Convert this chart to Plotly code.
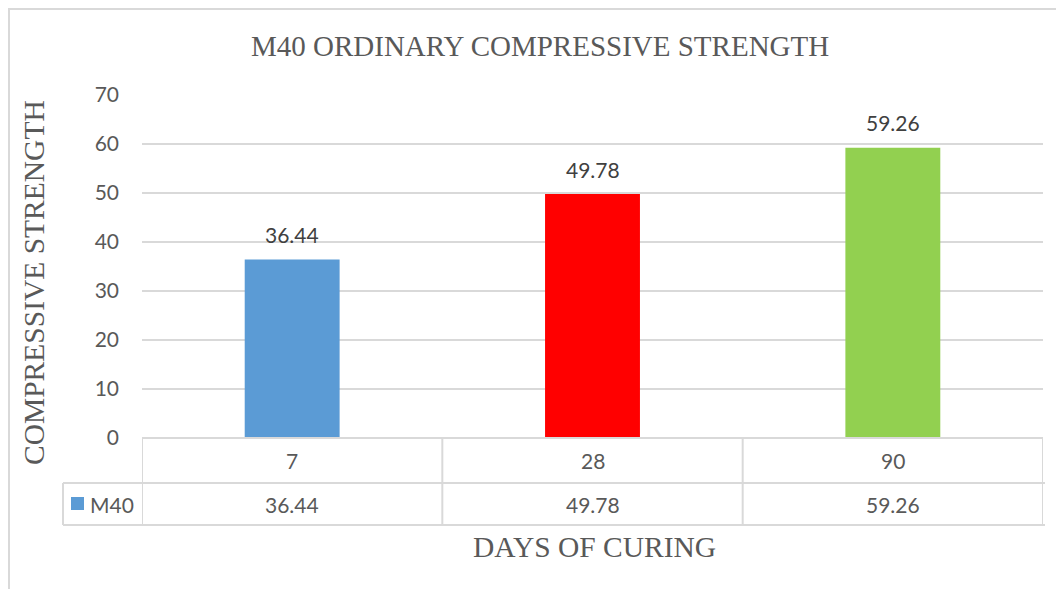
import plotly.graph_objects as go

categories = ["7", "28", "90"]
values = [36.44, 49.78, 59.26]
colors = ["#5B9BD5", "#FF0000", "#92D050"]
series_name = "M40"
y_ticks = [0, 10, 20, 30, 40, 50, 60, 70]
title_text = "M40 ORDINARY COMPRESSIVE STRENGTH"
y_title = "COMPRESSIVE STRENGTH"
x_title = "DAYS OF CURING"

OFF = 8  # page body margin
W, H = 1056, 581
L, T = 142 - OFF, 95 - OFF
pw = 1043 - 142
ph = 438 - 95
R = W - L - pw
B = H - T - ph

def py(pix):
    return (OFF + T + ph - pix) / ph

def px(pix):
    return (pix - OFF - L) / pw

xs = list(range(len(categories)))
fig = go.Figure()
fig.add_trace(go.Bar(
    x=xs, y=values, marker=dict(color=colors, line=dict(width=0)),
    width=0.316, showlegend=False, hoverinfo="skip",
))

grid = "#d9d9d9"
shapes = []
row_top = py(438)
row_mid = py(483)
row_bot = py(525)
lw = dict(color=grid, width=2)
shapes.append(dict(type="line", xref="x", yref="paper", x0=-0.5, x1=2.5, y0=row_top, y1=row_top, line=lw))
shapes.append(dict(type="line", xref="paper", yref="paper", x0=px(63), x1=px(1045), y0=row_mid, y1=row_mid, line=lw))
shapes.append(dict(type="line", xref="paper", yref="paper", x0=px(63), x1=px(1045), y0=row_bot, y1=row_bot, line=lw))
for i in range(len(categories) + 1):
    shapes.append(dict(type="line", xref="x", yref="paper", x0=i - 0.5, x1=i - 0.5, y0=row_top, y1=row_bot, line=lw))
shapes.append(dict(type="line", xref="paper", yref="paper", x0=px(63), x1=px(63), y0=row_mid, y1=row_bot, line=lw))
# legend key square
shapes.append(dict(type="rect", xref="paper", yref="paper", x0=px(71), x1=px(84), y0=py(510), y1=py(497), fillcolor=colors[0], line=dict(width=0)))
# outer chart border
shapes.append(dict(type="line", xref="paper", yref="paper", x0=px(9), x1=px(9), y0=py(9), y1=py(600), line=lw))
shapes.append(dict(type="line", xref="paper", yref="paper", x0=px(8), x1=px(1070), y0=py(9), y1=py(9), line=lw))

ann = []
cell_font = dict(family="Lato, sans-serif", size=21, color="#595959")
label_font = dict(family="Lato, sans-serif", size=21, color="#404040")
for i, c in enumerate(categories):
    ann.append(dict(x=i, y=values[i], xref="x", yref="y", text=f"{values[i]:.2f}", showarrow=False, font=label_font,
                    xanchor="center", yanchor="middle", yshift=25))
    ann.append(dict(x=i, y=(row_top + row_mid) / 2, xref="x", yref="paper", text=c, showarrow=False, font=cell_font, xanchor="center", yanchor="middle"))
    ann.append(dict(x=i, y=(row_mid + row_bot) / 2, xref="x", yref="paper", text=f"{values[i]:.2f}", showarrow=False, font=cell_font, xanchor="center", yanchor="middle"))
ann.append(dict(x=px(88), y=(row_mid + row_bot) / 2, xref="paper", yref="paper", text=series_name, showarrow=False, font=cell_font, xanchor="left", yanchor="middle"))
serif = "Liberation Serif, Times New Roman, serif"
ann.append(dict(x=px(540), y=py(46), xref="paper", yref="paper", text=title_text, showarrow=False,
                font=dict(family=serif, size=29, color="#595959"), xanchor="center", yanchor="middle"))
ann.append(dict(x=px(594), y=py(547), xref="paper", yref="paper", text=x_title, showarrow=False,
                font=dict(family=serif, size=29.5, color="#595959"), xanchor="center", yanchor="middle"))
ann.append(dict(x=px(34), y=py(283), xref="paper", yref="paper", text=y_title, showarrow=False, textangle=-90,
                font=dict(family=serif, size=29.5, color="#595959"), xanchor="center", yanchor="middle"))

fig.update_layout(
    width=W, height=H, margin=dict(l=L, r=R, t=T, b=B),
    paper_bgcolor="white", plot_bgcolor="white",
    shapes=shapes, annotations=ann,
    xaxis=dict(range=[-0.5, 2.5], showticklabels=False, showgrid=False, zeroline=False, showline=False, fixedrange=True),
    yaxis=dict(range=[0, 70], tickvals=y_ticks, showgrid=True, gridcolor=grid, gridwidth=1.5, zeroline=False,
               showline=False, tickfont=dict(family="Lato, sans-serif", size=21, color="#595959"),
               ticklabelstandoff=22, fixedrange=True),
)
fig.write_html("out.html")
